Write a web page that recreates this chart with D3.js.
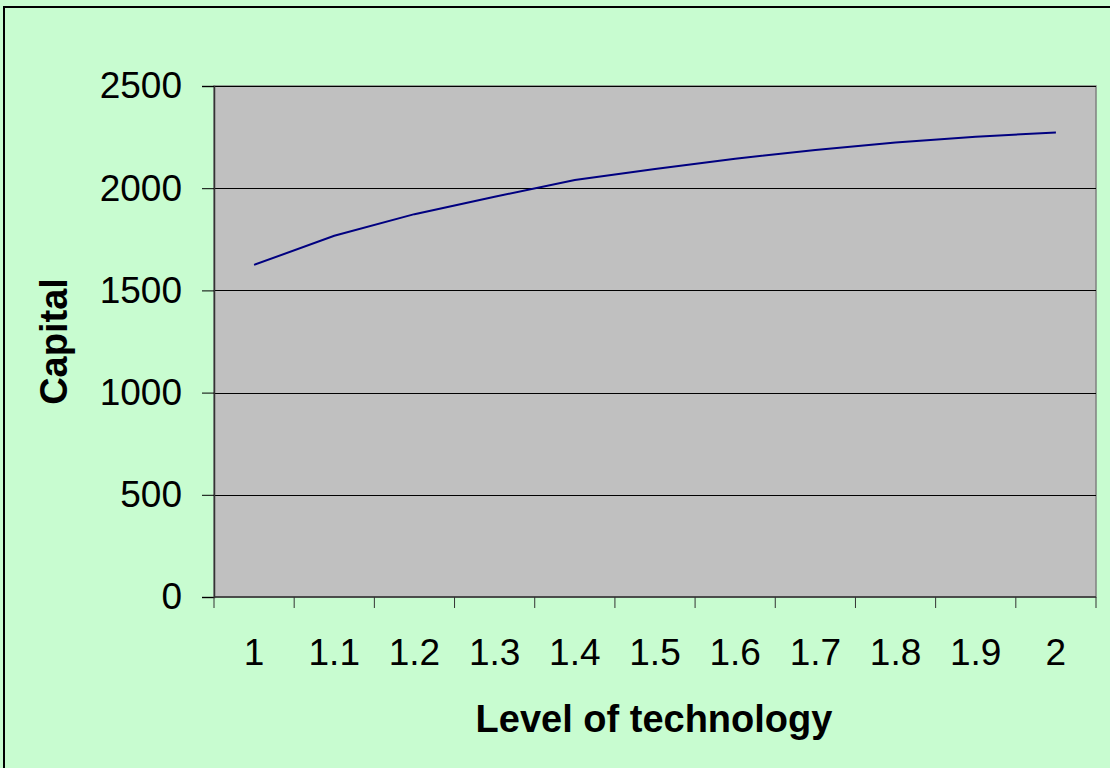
<!DOCTYPE html>
<html>
<head>
    <title>Capital vs Level of technology</title>
    <script src="https://cdnjs.cloudflare.com/ajax/libs/d3/7.8.5/d3.min.js"></script>
    <style>
        body { margin: 0; background: #c8fcd0; }
        svg { display: block; }
        text { font-family: "Liberation Sans", Arial, sans-serif; fill: #000; }
    </style>
</head>
<body>
    <div id="chart"></div>
    <script>
        // data
        const technology = ['1', '1.1', '1.2', '1.3', '1.4', '1.5', '1.6', '1.7', '1.8', '1.9', '2'];
        const capital = [1625, 1767, 1873, 1958, 2040, 2094, 2144, 2187, 2224, 2252, 2273];
        const yTicks = [0, 500, 1000, 1500, 2000, 2500];

        const W = 1110, H = 768;
        const margin = {top: 86, right: 14, bottom: 171, left: 214};
        const width = W - margin.left - margin.right;
        const height = H - margin.top - margin.bottom;

        const svg = d3.select('#chart')
            .append('svg')
            .attr('width', W)
            .attr('height', H);

        // chart area background + border
        svg.append('rect')
            .attr('x', 4).attr('y', 7)
            .attr('width', W + 10).attr('height', H + 10)
            .attr('fill', '#c8fcd0')
            .attr('stroke', '#000')
            .attr('stroke-width', 2);

        const g = svg.append('g')
            .attr('transform', `translate(${margin.left},${margin.top})`);

        const x = d3.scaleBand()
            .domain(technology)
            .range([0, width])
            .padding(0);

        const y = d3.scaleLinear()
            .domain([0, 2500])
            .range([height, 0]);

        // plot area
        g.append('rect')
            .attr('width', width)
            .attr('height', height)
            .attr('fill', '#c0c0c0')
            .attr('stroke', '#808080')
            .attr('stroke-width', 1.5);

        // gridlines
        g.append('g')
            .selectAll('line')
            .data(yTicks.filter(d => d > 0))
            .join('line')
            .attr('x1', 0).attr('x2', width)
            .attr('y1', d => Math.round(y(d)) + 0.5)
            .attr('y2', d => Math.round(y(d)) + 0.5)
            .attr('stroke', '#000')
            .attr('stroke-width', 1);

        // y axis
        const yAxis = g.append('g')
            .call(d3.axisLeft(y).tickValues(yTicks).tickFormat(d3.format('d')).tickSize(12).tickPadding(20));
        yAxis.select('.domain').attr('stroke', '#333').attr('stroke-width', 1.5);
        yAxis.selectAll('.tick line').attr('stroke', '#000');
        yAxis.selectAll('text')
            .style('font-size', '37px')
            .style('font-family', '"Liberation Sans", Arial, sans-serif')
            .attr('fill', '#000');

        // x axis: ticks between categories, labels centred
        const xAxis = g.append('g')
            .attr('transform', `translate(0,${height})`);
        xAxis.append('line')
            .attr('x1', 0).attr('x2', width)
            .attr('stroke', '#333').attr('stroke-width', 1.5);
        const bounds = technology.map(d => x(d)).concat([width]);
        xAxis.selectAll('.tk')
            .data(bounds)
            .join('line')
            .attr('class', 'tk')
            .attr('x1', d => d).attr('x2', d => d)
            .attr('y1', 0).attr('y2', 11)
            .attr('stroke', '#333');
        xAxis.selectAll('.lbl')
            .data(technology)
            .join('text')
            .attr('class', 'lbl')
            .attr('x', d => x(d) + x.bandwidth() / 2)
            .attr('y', 68)
            .attr('text-anchor', 'middle')
            .style('font-size', '37px')
            .text(d => d);

        // line
        const line = d3.line()
            .x((d, i) => x(technology[i]) + x.bandwidth() / 2)
            .y(d => y(d));

        g.append('path')
            .datum(capital)
            .attr('fill', 'none')
            .attr('stroke', '#000080')
            .attr('stroke-width', 2)
            .attr('d', line);

        // axis titles
        svg.append('text')
            .attr('x', margin.left + width / 2 - 1)
            .attr('y', 732)
            .attr('text-anchor', 'middle')
            .style('font-size', '38px')
            .style('font-weight', 'bold')
            .text('Level of technology');

        svg.append('text')
            .attr('transform', `translate(67,${margin.top + height / 2}) rotate(-90)`)
            .attr('text-anchor', 'middle')
            .style('font-size', '38px')
            .style('font-weight', 'bold')
            .text('Capital');
    </script>
</body>
</html>
